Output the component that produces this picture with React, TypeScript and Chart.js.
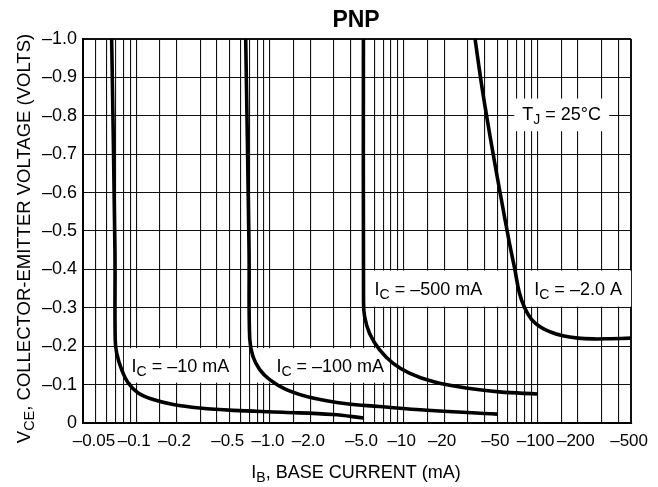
import React, { useEffect, useRef } from 'react';
import { Chart, registerables } from 'chart.js';

Chart.register(...registerables);

const FONT = "'Liberation Sans', Arial, Helvetica, sans-serif";

// |I_B| in mA and |V_CE| in volts (both plotted as negative quantities on the chart)
const ib10mA = [0.0655, 0.0693, 0.0696, 0.0714, 0.0778, 0.0871, 0.1035, 0.134, 0.189, 0.299, 0.529, 1.25, 2.95, 5.0];
const vce10mA = [1.0, 0.45, 0.22, 0.182, 0.139, 0.104, 0.078, 0.061, 0.048, 0.039, 0.033, 0.028, 0.022, 0.013];

const ib100mA = [0.658, 0.697, 0.705, 0.746, 0.838, 0.994, 1.325, 2.09, 3.72, 6.58, 12.4, 50];
const vce100mA = [1.0, 0.45, 0.22, 0.173, 0.139, 0.113, 0.087, 0.065, 0.05, 0.043, 0.035, 0.023];

const ib500mA = [4.99, 5.0, 5.09, 5.54, 6.58, 8.28, 11.0, 16.5, 29.2, 51.8, 100];
const vce500mA = [1.0, 0.32, 0.278, 0.234, 0.191, 0.156, 0.13, 0.108, 0.091, 0.081, 0.0755];

const ib2A = [34.1, 38.0, 42.1, 46.9, 53.6, 61.5, 67.6, 73, 80, 90, 105, 125, 154, 200, 260, 350, 500];
const vce2A = [1.0, 0.885, 0.789, 0.694, 0.582, 0.47, 0.4, 0.34, 0.3, 0.27, 0.25, 0.237, 0.227, 0.221, 0.219, 0.2195, 0.221];

// axes
const xMin = 0.04;
const xMax = 500;
const xGridValues = [
  0.04, 0.05, 0.06, 0.07, 0.08, 0.09,
  0.1, 0.15, 0.2, 0.3, 0.4, 0.5, 0.6, 0.7, 0.8, 0.9,
  1, 1.5, 2, 3, 4, 5, 6, 7, 8, 9,
  10, 15, 20, 30, 40, 50, 60, 70, 80, 90,
  100, 150, 200, 300, 400, 500,
];
const xLabelValues = [0.05, 0.1, 0.2, 0.5, 1, 2, 5, 10, 20, 50, 100, 200, 500];
const xLabelTexts = ['–0.05', '–0.1', '–0.2', '–0.5', '–1.0', '–2.0', '–5.0', '–10', '–20', '–50', '–100', '–200', '–500'];

const yTickValues = [0, 0.1, 0.2, 0.3, 0.4, 0.5, 0.6, 0.7, 0.8, 0.9, 1.0];
const yTickTexts = ['0', '–0.1', '–0.2', '–0.3', '–0.4', '–0.5', '–0.6', '–0.7', '–0.8', '–0.9', '–1.0'];

// in-plot labels (text)
const annoMain = ['I', 'I', 'I', 'I', 'T'];
const annoSub = ['C', 'C', 'C', 'C', 'J'];
const annoRest = [' = –10 mA', ' = –100 mA', ' = –500 mA', ' = –2.0 A', ' = 25°C'];

// label boxes in data coordinates (IB mA, |VCE| V)
const annoBoxes = [
  { x0: 0.0809, x1: 0.574, y0: 0.105, y1: 0.195, tx: 0.0923, ty: 0.15 },
  { x0: 0.796, x1: 7.3, y0: 0.105, y1: 0.195, tx: 1.116, ty: 0.15 },
  { x0: 5.36, x1: 51.8, y0: 0.303, y1: 0.397, tx: 6.04, ty: 0.35 },
  { x0: 82.3, x1: 500, y0: 0.303, y1: 0.397, tx: 94.4, ty: 0.35 },
  { x0: 67.0, x1: 342.6, y0: 0.76, y1: 0.845, tx: 76.9, ty: 0.805 },
];

const titleText = 'PNP';
const xTitleParts = [{ t: 'I' }, { t: 'B', sub: true }, { t: ', BASE CURRENT (mA)' }];
const yTitleParts = [{ t: 'V' }, { t: 'CE', sub: true }, { t: ', COLLECTOR-EMITTER VOLTAGE (VOLTS)' }];

type Part = { t: string; sub?: boolean };
const SUB_SCALE = 0.78;
const SUB_DROP = 0.22;
const CAP_HALF = 0.358;

function fontStr(size: number, bold = false) {
  return `${bold ? 'bold ' : ''}${size}px ${FONT}`;
}

function richWidth(ctx: CanvasRenderingContext2D, parts: Part[], size: number) {
  let w = 0;
  for (const p of parts) {
    ctx.font = fontStr(p.sub ? size * SUB_SCALE : size);
    w += ctx.measureText(p.t).width;
  }
  return w;
}

function drawRich(ctx: CanvasRenderingContext2D, parts: Part[], size: number, x: number, baseline: number) {
  let cx = x;
  ctx.textAlign = 'left';
  ctx.textBaseline = 'alphabetic';
  for (const p of parts) {
    const s = p.sub ? size * SUB_SCALE : size;
    ctx.font = fontStr(s);
    ctx.fillText(p.t, cx, p.sub ? baseline + size * SUB_DROP : baseline);
    cx += ctx.measureText(p.t).width;
  }
}

const toPoints = (xs: number[], ys: number[]) => xs.map((x, i) => ({ x, y: ys[i] }));

const textPlugin = {
  id: 'pnpText',
  beforeDatasetsDraw(chart: any) {
    const ctx: CanvasRenderingContext2D = chart.ctx;
    const xs = chart.scales.x;
    const ys = chart.scales.y;
    ctx.save();
    annoBoxes.forEach((b, i) => {
      const l = xs.getPixelForValue(b.x0);
      const r = xs.getPixelForValue(b.x1);
      const t = ys.getPixelForValue(b.y1);
      const bt = ys.getPixelForValue(b.y0);
      ctx.fillStyle = '#fff';
      ctx.fillRect(l, t, r - l, bt - t);
      ctx.fillStyle = '#000';
      const size = 18;
      const base = ys.getPixelForValue(b.ty) + CAP_HALF * size;
      drawRich(ctx, [{ t: annoMain[i] }, { t: annoSub[i], sub: true }, { t: annoRest[i] }], size, xs.getPixelForValue(b.tx), base);
    });
    ctx.restore();
  },
  afterDraw(chart: any) {
    const ctx: CanvasRenderingContext2D = chart.ctx;
    const area = chart.chartArea;
    const cxPlot = (area.left + area.right) / 2;
    ctx.save();
    ctx.fillStyle = '#000';
    // title
    ctx.font = fontStr(23, true);
    ctx.textAlign = 'center';
    ctx.textBaseline = 'alphabetic';
    ctx.fillText(titleText, cxPlot - 1, 18.3 + CAP_HALF * 23);
    // x title
    const xs = 18;
    const xw = richWidth(ctx, xTitleParts, xs);
    drawRich(ctx, xTitleParts, xs, cxPlot - 1 - xw / 2, 471.5 + CAP_HALF * xs);
    // y title (rotated)
    const ysz = 18.5;
    const yw = richWidth(ctx, yTitleParts, ysz);
    ctx.translate(23.7, 238.5);
    ctx.rotate(-Math.PI / 2);
    drawRich(ctx, yTitleParts, ysz, -yw / 2, CAP_HALF * ysz);
    ctx.restore();
  },
};

export default function App() {
  const ref = useRef<HTMLCanvasElement>(null);
  useEffect(() => {
    const canvas = ref.current;
    if (!canvas) return;
    const lineStyle = {
      borderColor: '#000',
      backgroundColor: '#000',
      borderWidth: 3.6,
      borderJoinStyle: 'round' as const,
      borderCapStyle: 'butt' as const,
      pointRadius: 0,
      fill: false,
      tension: 0.4,
    };
    const chart = new Chart(canvas, {
      type: 'line',
      data: {
        datasets: [
          { label: 'IC = -10 mA', data: toPoints(ib10mA, vce10mA), ...lineStyle },
          { label: 'IC = -100 mA', data: toPoints(ib100mA, vce100mA), ...lineStyle },
          { label: 'IC = -500 mA', data: toPoints(ib500mA, vce500mA), ...lineStyle },
          { label: 'IC = -2.0 A', data: toPoints(ib2A, vce2A), ...lineStyle },
        ],
      },
      options: {
        animation: false,
        responsive: false,
        layout: { padding: { left: 0, right: 26, top: 39, bottom: 0 } },
        plugins: { legend: { display: false }, tooltip: { enabled: false }, title: { display: false } },
        events: [],
        scales: {
          x: {
            type: 'logarithmic',
            min: xMin,
            max: xMax,
            afterBuildTicks: (scale: any) => {
              scale.ticks = xGridValues.map((v) => ({ value: v }));
            },
            afterFit: (scale: any) => {
              scale.height = 64;
            },
            ticks: {
              autoSkip: false,
              maxRotation: 0,
              minRotation: 0,
              padding: 8,
              labelOffset: -2,
              color: '#000',
              font: { family: FONT, size: 17 },
              callback: (value: any) => {
                const i = xLabelValues.indexOf(Number(value));
                return i >= 0 ? xLabelTexts[i] : '';
              },
            },
            grid: {
              color: '#111',
              lineWidth: (c: any) => (c.tick && c.tick.value === xMax ? 2 : 1.1),
              drawTicks: false,
            },
            border: { display: true, color: '#000', width: 2 },
          },
          y: {
            type: 'linear',
            min: 0,
            max: 1,
            afterBuildTicks: (scale: any) => {
              scale.ticks = yTickValues.map((v) => ({ value: v }));
            },
            afterFit: (scale: any) => {
              scale.width = 83;
            },
            ticks: {
              autoSkip: false,
              padding: 6,
              color: '#000',
              font: { family: FONT, size: 18 },
              callback: (_v: any, i: number) => yTickTexts[i],
            },
            grid: {
              color: '#111',
              lineWidth: (c: any) => (c.tick && c.tick.value === 1 ? 2 : 1.1),
              drawTicks: false,
            },
            border: { display: true, color: '#000', width: 2 },
          },
        },
      },
      plugins: [textPlugin],
    } as any);
    return () => chart.destroy();
  }, []);
  return (
    <div style={{ position: 'fixed', left: 0, top: 0, width: 658, height: 487, background: '#fff' }}>
      <canvas ref={ref} width={658} height={487} style={{ display: 'block', width: 658, height: 487 }} />
    </div>
  );
}
